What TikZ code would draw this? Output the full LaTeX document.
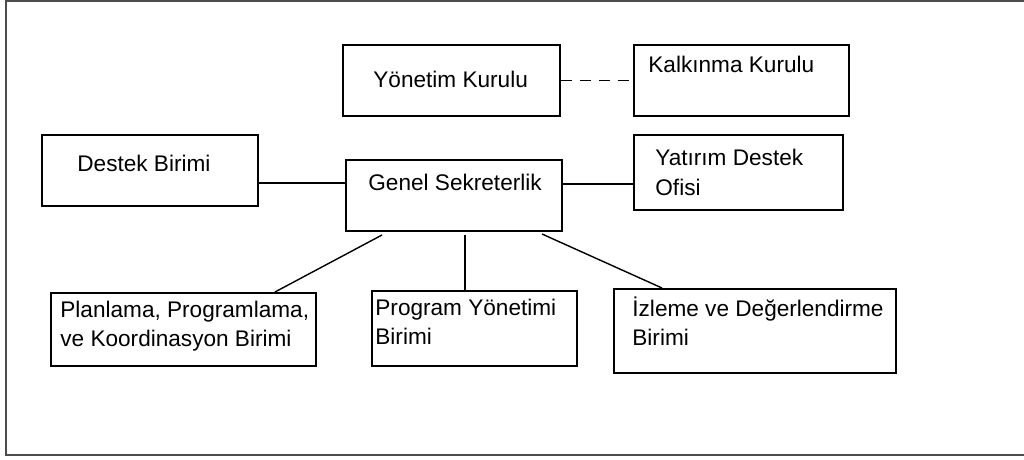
\documentclass[tikz,border=0pt]{standalone}
\usepackage{fontspec}
\setmainfont{Liberation Sans}
\begin{document}
\begin{tikzpicture}[x=0.5pt,y=-0.5pt,
  box/.style={draw=black, line width=1pt, rectangle, inner sep=0pt},
  txt/.style={anchor=base west, inner sep=0pt, align=left, font=\fontsize{11.3}{14.75}\selectfont},
  conn/.style={draw=black, line width=0.7pt},
  frame/.style={draw=black!70, line width=1pt}]
\useasboundingbox (0,0) rectangle (1024,460);
% outer frame
\draw[frame] (1040,1) -- (6,1) -- (6,455) -- (1040,455);
% boxes
\node[box, minimum width=108.5pt, minimum height=35.5pt] (yk) at (451.5,80.5) {};
\node[box, minimum width=107.5pt, minimum height=35.5pt] (kk) at (741.5,80.5) {};
\node[box, minimum width=108pt, minimum height=35.5pt] (db) at (150,170.5) {};
\node[box, minimum width=108pt, minimum height=35.5pt] (gs) at (454,195.5) {};
\node[box, minimum width=104.5pt, minimum height=37.5pt] (yd) at (738.5,172.5) {};
\node[box, minimum width=132.5pt, minimum height=36.5pt] (pl) at (183.5,329.5) {};
\node[box, minimum width=102.5pt, minimum height=37.5pt] (pr) at (474.5,328.5) {};
\node[box, minimum width=141pt, minimum height=42pt] (iz) at (755,331) {};
% texts (multi-line nodes: base anchor is on the last line)
\node[txt] (yk-t) at (373,88) {Yönetim Kurulu};
\node[txt] (kk-t) at (648,73) {Kalkınma Kurulu};
\node[txt] (db-t) at (77,172) {Destek Birimi};
\node[txt] (gs-t) at (368,191) {Genel Sekreterlik};
\node[txt] (yd-t) at (655,195.5) {Yatırım Destek\\Ofisi};
\node[txt] (pl-t) at (60,346.5) {Planlama, Programlama,\\ve Koordinasyon Birimi};
\node[txt] (pr-t) at (375,344.5) {Program Yönetimi\\Birimi};
\node[txt] (iz-t) at (632,345.5) {İzleme ve Değerlendirme\\Birimi};
% connectors
\draw[conn, dash pattern=on 5.5pt off 4pt] (yk.east) -- (kk.west);
\coordinate (gsl) at ([yshift=6.2pt]gs.west);
\draw[conn] (gsl) -- (gsl -| db.east);
\coordinate (gsr) at ([yshift=5.7pt]gs.east);
\draw[conn] (gsr) -- (gsr -| yd.west);
\coordinate (b1) at ([xshift=-36pt,yshift=-1.5pt]gs.south);
\coordinate (b2) at ([xshift=5.5pt,yshift=-1.5pt]gs.south);
\coordinate (b3) at ([xshift=44pt,yshift=-1pt]gs.south);
\draw[conn] (b1) -- ([xshift=45.75pt]pl.north);
\draw[conn] (b2) -- (b2 |- pr.north);
\draw[conn] (b3) -- ([xshift=-46.5pt]iz.north);
\end{tikzpicture}
\end{document}
